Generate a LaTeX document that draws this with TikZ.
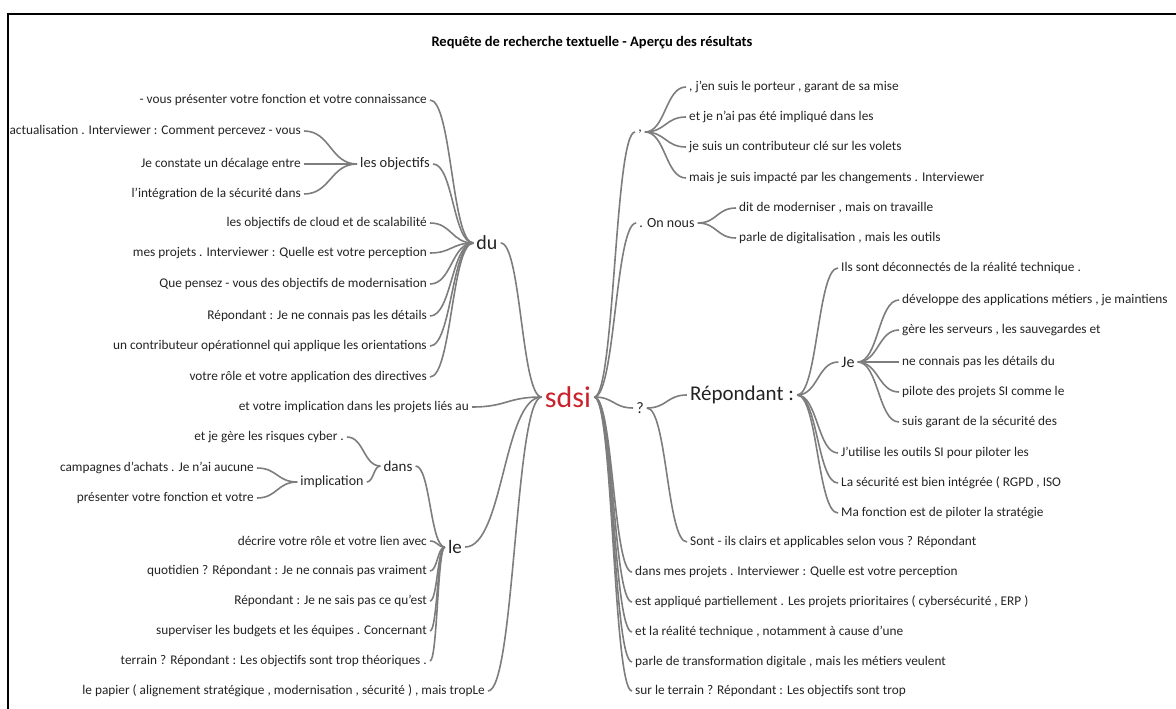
\documentclass[tikz,border=0pt]{standalone}
\usepackage{fontspec}
\setmainfont{Carlito}
\usetikzlibrary{calc}
\definecolor{linegray}{RGB}{125,125,125}
\definecolor{textgray}{RGB}{35,35,35}
\definecolor{sdsired}{RGB}{200,35,45}
\begin{document}
\begin{tikzpicture}
[x=1pt,y=-1pt,
  leafdecorate/.style={inner sep=3pt,text=textgray,font=\fontsize{13.3}{15}\selectfont},
  hubdecorate/.style={inner sep=3pt,text=textgray},
  linedecorate/.style={-,draw=linegray,line width=1.6pt,
    to path={let \p1=(\tikztostart),\p2=(\tikztotarget) in
      .. controls (0.5*\x1+0.5*\x2,\y1) and (0.5*\x1+0.5*\x2,\y2) .. (\tikztotarget)}}]
\useasboundingbox (0,0) rectangle (1176,709);
%% frame and title
\draw[line width=1.5pt] (8,709) -- (8,14) -- (1176,14);
\node (title) at (592,43) [font=\bfseries\fontsize{14.5}{16}\selectfont] {Requête de recherche textuelle - Aperçu des résultats};
%% root and hubs
\node (sdsi) at (568,397) [hubdecorate,text=sdsired,font=\fontsize{30}{32}\selectfont] {sdsi};
\foreach \nodename/\x/\ypos/\size/\hubtext in {
  du/487/243/20/du, objectifs/395/164/14.5/les objectifs,
  dans/398/466/15/dans, implication/332/482/14/implication,
  le/455/547/19/le, comma/640/132/14/{,}, onnous/667/223/14/. On nous,
  q/640/408/16/?, repondant/742/395/21/Répondant :, je/848/362/16/Je} {
  \node (\nodename) at (\x,\ypos) [hubdecorate,font=\fontsize{\size}{\size}\selectfont] {\hubtext};
}
%% leaves on the left
\foreach \nodename/\x/\ypos/\leaftext in {
  du1/430/100/{- vous présenter votre fonction et votre connaissance},
  du2/430/223/{les objectifs de cloud et de scalabilité},
  du3/430/253/{mes projets . Interviewer : Quelle est votre perception},
  du4/430/284/{Que pensez - vous des objectifs de modernisation},
  du5/430/316/{Répondant : Je ne connais pas les détails},
  du6/430/346/{un contributeur opérationnel qui applique les orientations},
  du7/430/377/{votre rôle et votre application des directives},
  ob1/304/131/{actualisation . Interviewer : Comment percevez - vous},
  ob2/304/164/{Je constate un décalage entre},
  ob3/304/194/{l'intégration de la sécurité dans},
  sl1/472/407/{et votre implication dans les projets liés au},
  sl2/488/691/{le papier ( alignement stratégique , modernisation , sécurité ) , mais tropLe},
  da1/347/437/{et je gère les risques cyber .},
  im1/257/468/{campagnes d'achats . Je n'ai aucune},
  im2/257/498/{présenter votre fonction et votre},
  le1/430/541/{décrire votre rôle et votre lien avec},
  le2/430/571/{quotidien ? Répondant : Je ne connais pas vraiment},
  le3/430/601/{Répondant : Je ne sais pas ce qu'est},
  le4/430/631/{superviser les budgets et les équipes . Concernant},
  le5/430/661/{terrain ? Répondant : Les objectifs sont trop théoriques .}} {
  \node (\nodename) at (\x,\ypos) [leafdecorate,anchor=east] {\leaftext};
}
%% leaves on the right
\foreach \nodename/\x/\ypos/\leaftext in {
  co1/686/87/{, j'en suis le porteur , garant de sa mise},
  co2/686/117/{et je n'ai pas été impliqué dans les},
  co3/686/147/{je suis un contributeur clé sur les volets},
  co4/686/178/{mais je suis impacté par les changements . Interviewer},
  on1/736/208/{dit de moderniser , mais on travaille},
  on2/736/238/{parle de digitalisation , mais les outils},
  re1/838/268/{Ils sont déconnectés de la réalité technique .},
  je1/899/300/{développe des applications métiers , je maintiens},
  je2/899/330/{gère les serveurs , les sauvegardes et},
  je3/899/362/{ne connais pas les détails du},
  je4/899/392/{pilote des projets SI comme le},
  je5/899/422/{suis garant de la sécurité des},
  re2/838/453/{J'utilise les outils SI pour piloter les},
  re3/838/483/{La sécurité est bien intégrée ( RGPD , ISO},
  re4/838/513/{Ma fonction est de piloter la stratégie},
  sont/687/542/{Sont - ils clairs et applicables selon vous ? Répondant},
  sr1/632/572/{dans mes projets . Interviewer : Quelle est votre perception},
  sr2/632/602/{est appliqué partiellement . Les projets prioritaires ( cybersécurité , ERP )},
  sr3/632/632/{et la réalité technique , notamment à cause d'une},
  sr4/632/662/{parle de transformation digitale , mais les métiers veulent},
  sr5/632/691/{sur le terrain ? Répondant : Les objectifs sont trop}} {
  \node (\nodename) at (\x,\ypos) [leafdecorate,anchor=west] {\leaftext};
}
%% edges on the left
\path
\foreach \startnode/\endnode in {
  du1/du, objectifs/du, du2/du, du3/du, du4/du, du5/du, du6/du, du7/du,
  ob1/objectifs, ob2/objectifs, ob3/objectifs,
  du/sdsi, sl1/sdsi, le/sdsi, sl2/sdsi,
  da1/dans, implication/dans, im1/implication, im2/implication,
  dans/le, le1/le, le2/le, le3/le, le4/le, le5/le} {
  (\startnode.east) edge[linedecorate] (\endnode.west)
};
%% edges on the right
\path
\foreach \startnode/\endnode in {
  sdsi/comma, sdsi/onnous, sdsi/q, sdsi/sr1, sdsi/sr2, sdsi/sr3, sdsi/sr4, sdsi/sr5,
  comma/co1, comma/co2, comma/co3, comma/co4, onnous/on1, onnous/on2,
  q/repondant, q/sont, repondant/re1, repondant/je, repondant/re2,
  repondant/re3, repondant/re4, je/je1, je/je2, je/je3, je/je4, je/je5} {
  (\startnode.east) edge[linedecorate] (\endnode.west)
};
\end{tikzpicture}
\end{document}
